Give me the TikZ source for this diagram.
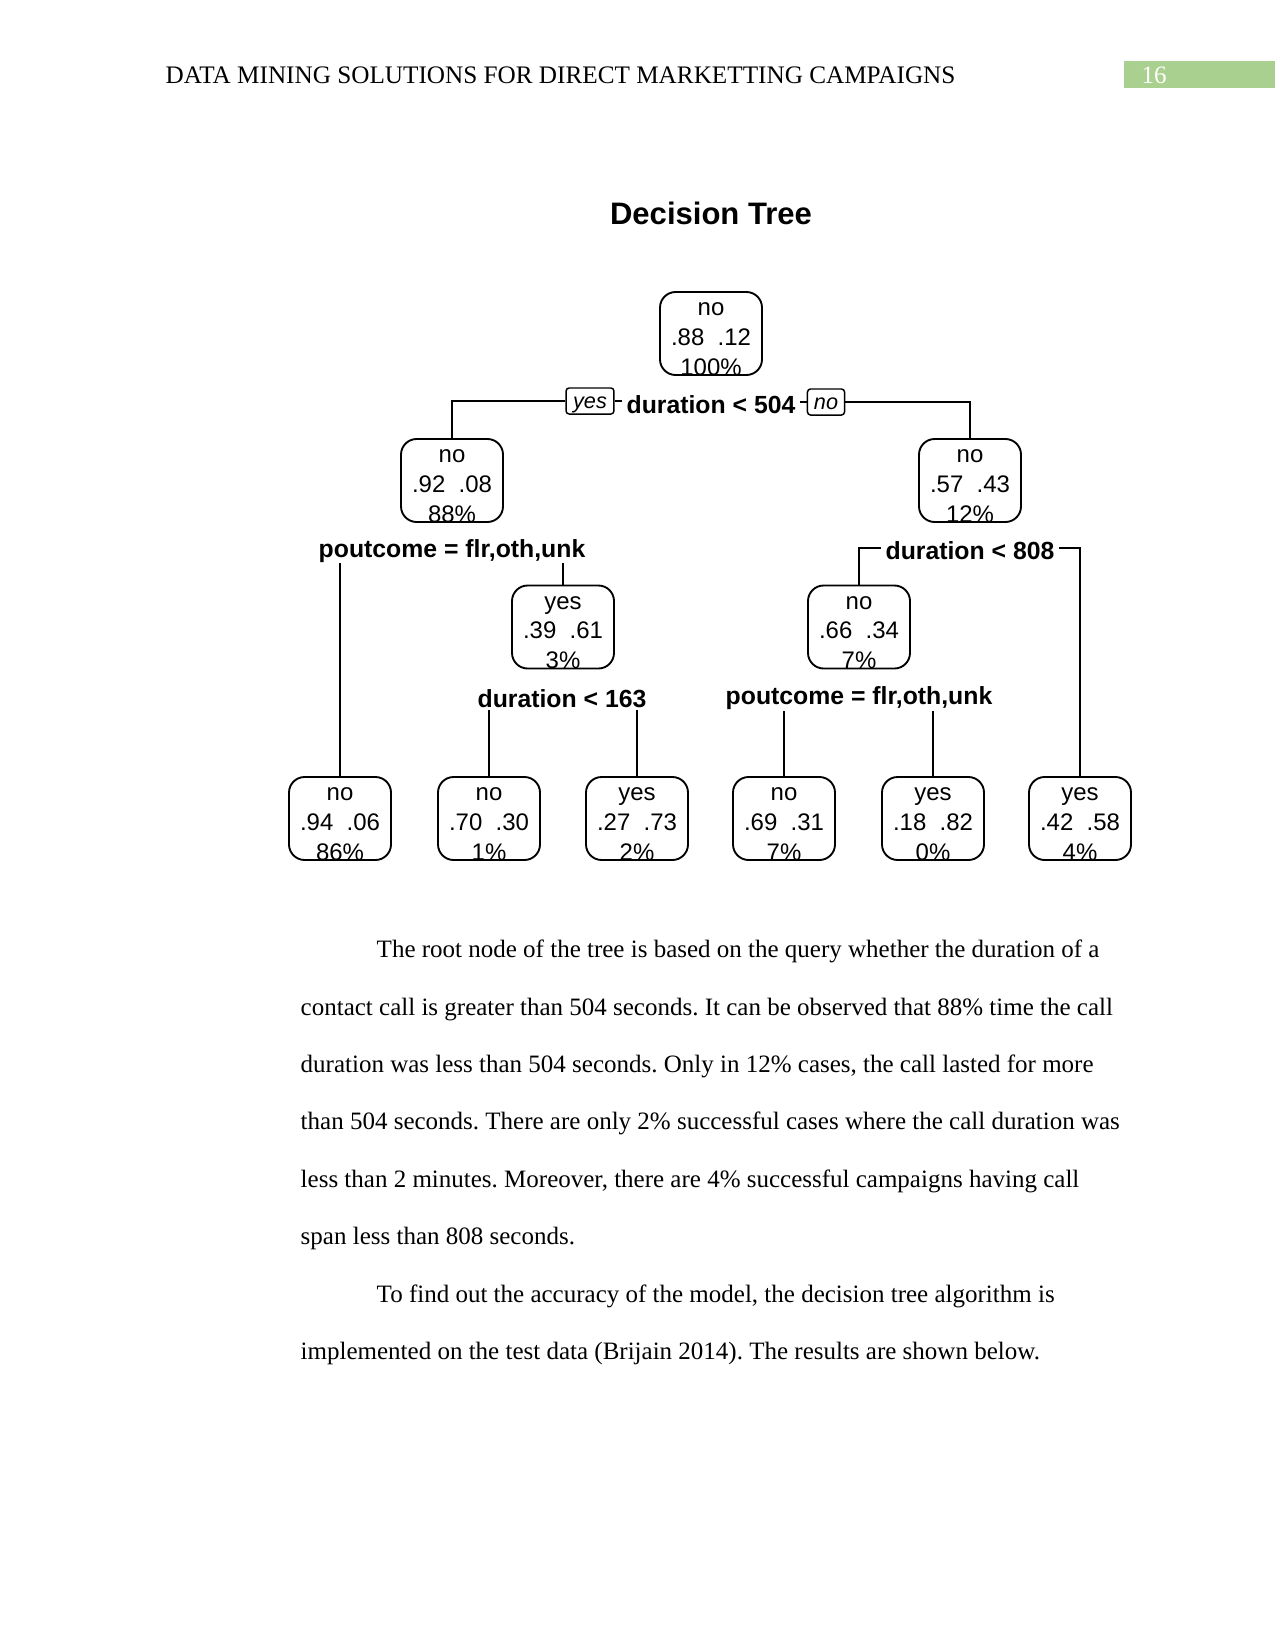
\documentclass[tikz,border=0pt]{standalone}
\usepackage{fontspec}
\setmainfont{Liberation Serif}
\newfontfamily\arialf{Liberation Sans}
\definecolor{hdrgreen}{RGB}{169,208,142}
\newcommand\treebox[6]{%
  \node[tbox] (#1) at (#2,#3) {};
  \node[tboxtext] (#1t) at ([yshift=-2.9pt]#1.center) {\strut #4\\\strut #5\\\strut #6};
}
\frenchspacing
\begin{document}
\begin{tikzpicture}[x=0.48pt,y=-0.48pt,line width=0.7pt,
  tbox/.style={draw,line width=0.9pt,rounded corners=7.5pt,minimum width=48.96pt,minimum height=39.84pt,inner sep=0pt},
  tboxtext/.style={inner sep=0pt,align=center,font=\arialf\fontsize{11.5}{14.2}\selectfont},
  split/.style={inner sep=2pt,font=\arialf\bfseries\fontsize{11.9}{14}\selectfont},
  yn/.style={draw,line width=0.7pt,rounded corners=1.5pt,minimum height=12.5pt,inner sep=0pt,text height=8pt,text depth=1pt,font=\arialf\itshape\fontsize{10.4}{11}\selectfont},
  body/.style={anchor=base west,inner sep=0pt,font=\fontsize{12}{14}\selectfont},
  conn/.style={line width=0.7pt}]
\useasboundingbox (0,0) rectangle (1275,1651);
% header
\node[anchor=base west,inner sep=0pt,font=\fontsize{12.1}{14}\selectfont] (hdr) at (165,84) {DATA MINING SOLUTIONS FOR DIRECT MARKETTING CAMPAIGNS};
\fill[hdrgreen] (1124,61) rectangle (1275,88);
\node[anchor=base west,inner sep=0pt,text=white,font=\fontsize{12}{14}\selectfont] (pnum) at (1141,84) {16};
% title
\node[inner sep=0pt,font=\arialf\bfseries\fontsize{14.9}{16}\selectfont] (title) at (711,213) {Decision Tree};
% tree
\treebox{root}{711}{333.5}{no}{.88\ \ .12}{100\%}
\treebox{L}{452}{480.5}{no}{.92\ \ .08}{88\%}
\treebox{R}{970}{480.5}{no}{.57\ \ .43}{12\%}
\treebox{LR}{563}{627}{yes}{.39\ \ .61}{3\%}
\treebox{RL}{859}{627}{no}{.66\ \ .34}{7\%}
\treebox{f1}{340}{818.5}{no}{.94\ \ .06}{86\%}
\treebox{f2}{489}{818.5}{no}{.70\ \ .30}{1\%}
\treebox{f3}{637}{818.5}{yes}{.27\ \ .73}{2\%}
\treebox{f4}{784}{818.5}{no}{.69\ \ .31}{7\%}
\treebox{f5}{933}{818.5}{yes}{.18\ \ .82}{0\%}
\treebox{f6}{1080}{818.5}{yes}{.42\ \ .58}{4\%}
% split labels
\node[split] (d504) at (711,404.5) {duration < 504};
\node[yn,minimum width=23pt] (yes) at (590,401) {yes};
\node[yn,minimum width=17.8pt] (no) at (826,402) {no};
\node[split] (pc1) at (452,551) {poutcome = flr,oth,unk};
\node[split] (d808) at (970,551) {duration < 808};
\node[split] (d163) at (562,699) {duration < 163};
\node[split] (pc2) at (859,698) {poutcome = flr,oth,unk};
% connectors
\draw[conn] (yes.west) -| (L.north);
\draw[conn] (yes.east) -- (yes.east -| d504.west);
\draw[conn] (no.west) -- (no.west -| d504.east);
\draw[conn] (no.east) -| (R.north);
\draw[conn] ([yshift=2pt]f1.north |- pc1.south) -- (f1.north);
\draw[conn] ([yshift=2pt]LR.north |- pc1.south) -- (LR.north);
\draw[conn] ([yshift=1.5pt]d808.west) -| (RL.north);
\draw[conn] ([yshift=1.5pt]d808.east) -| (f6.north);
\draw[conn] ([yshift=1.5pt]f2.north |- d163.south) -- (f2.north);
\draw[conn] ([yshift=1.5pt]f3.north |- d163.south) -- (f3.north);
\draw[conn] ([yshift=1.5pt]f4.north |- pc2.south) -- (f4.north);
\draw[conn] ([yshift=1.5pt]f5.north |- pc2.south) -- (f5.north);
% body text
\node[body] (b1) at (376,957) {The root node of the tree is based on the query whether the duration of a};
\node[body] (b2) at (300,1015) {contact call is greater than 504 seconds. It can be observed that 88\% time the call};
\node[body] (b3) at (300,1072) {duration was less than 504 seconds. Only in 12\% cases, the call lasted for more};
\node[body] (b4) at (300,1129) {than 504 seconds. There are only 2\% successful cases where the call duration was};
\node[body] (b5) at (300,1187) {less than 2 minutes. Moreover, there are 4\% successful campaigns having call};
\node[body] (b6) at (300,1244) {span less than 808 seconds.};
\node[body] (b7) at (376,1302) {To find out the accuracy of the model, the decision tree algorithm is};
\node[body] (b8) at (300,1359) {implemented on the test data (Brijain 2014). The results are shown below.};
\end{tikzpicture}
\end{document}
